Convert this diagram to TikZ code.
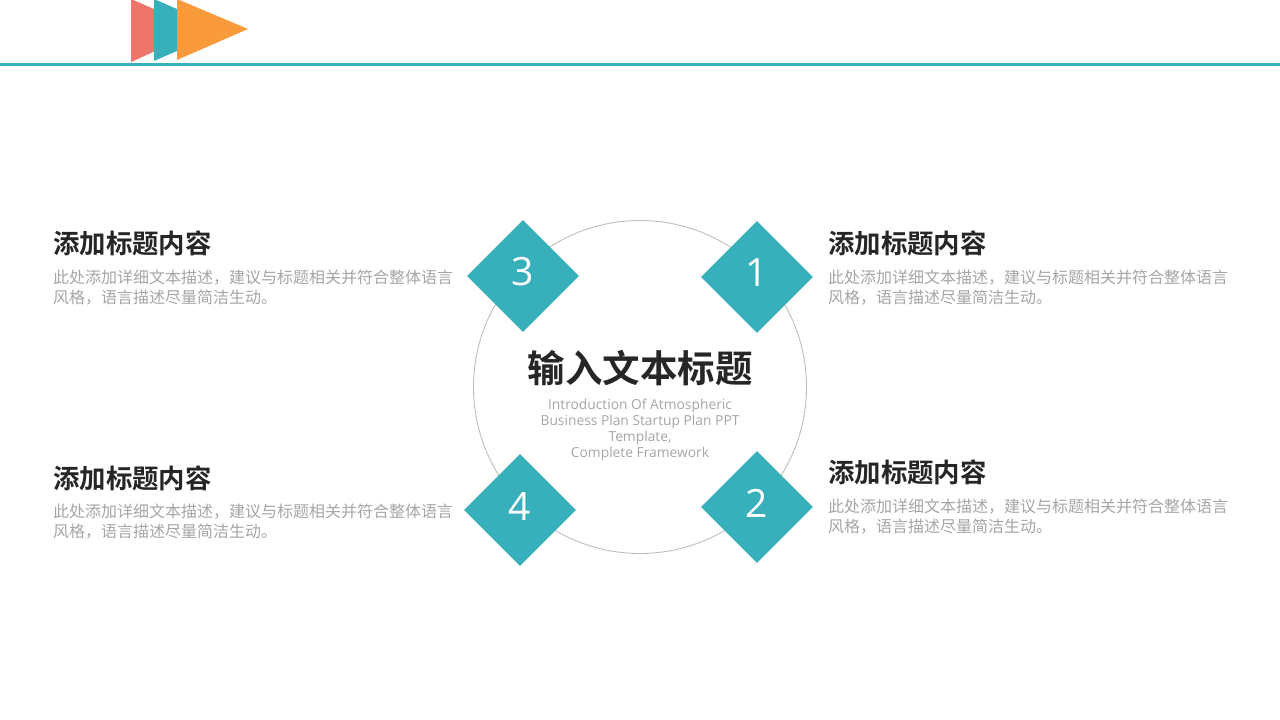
\documentclass[tikz,border=0pt]{standalone}
\usepackage{fontspec}
\setmainfont{Open Sans}
\newfontfamily\cjk{Noto Sans CJK SC}
\newfontfamily\cjkb{Noto Sans CJK SC Bold}
\definecolor{teal1}{HTML}{38B0BC}
\definecolor{orange1}{HTML}{F99A3B}
\definecolor{pink1}{HTML}{EE7569}
\definecolor{dark1}{HTML}{262626}
\definecolor{gray1}{HTML}{A6A6A6}
\definecolor{circ}{HTML}{BFBFBF}
\begin{document}
\begin{tikzpicture}[x=1pt,y=-1pt,
  dia/.style={fill=teal1,minimum size=79pt,inner sep=0pt,rotate=45},
  num/.style={text=white,font=\fontsize{39}{39}\selectfont,inner sep=0pt,yshift=4pt},
  ttl/.style={anchor=west,inner sep=0pt,text=dark1,font=\cjkb\fontsize{26.4}{26.4}\selectfont},
  desc/.style={anchor=north west,inner sep=0pt,text=gray1,align=left,font=\cjk\fontsize{16}{19.5}\selectfont}]
\useasboundingbox (0,0) rectangle (1280,720);
\fill[white] (0,0) rectangle (1280,720);
% header triangles
\fill[pink1] (131,-1) -- (131,62) -- (202,30) -- cycle;
\fill[teal1] (154,-1) -- (154,61) -- (225,30) -- cycle;
\fill[orange1] (177,-1) -- (177,60) -- (248,29) -- cycle;
\coordinate (hl) at (0,64.5);
\coordinate (hr) at (1280,64.5);
\draw[teal1,line width=3.5pt] (hl) -- (hr);
% circle
\node[circle,draw=circ,line width=0.9pt,minimum size=333pt,inner sep=0pt] (c) at (640,387) {};
% diamonds
\node[dia] (d1) at (757,277) {};
\node[dia] (d3) at (523,276) {};
\node[dia] (d4) at (520,510) {};
\node[dia] (d2) at (757,507) {};
\node[num] (n1) at (d1) {1};
\node[num] (n3) at (d3) {3};
\node[num] (n4) at (d4) {4};
\node[num] (n2) at (d2) {2};
% center text
\node[text=dark1,font=\cjkb\fontsize{37.5}{37.5}\selectfont,inner sep=0pt] (ct) at (640,368) {输入文本标题};
\node[text=gray1,font=\fontsize{13.8}{16}\selectfont,align=center,inner sep=0pt,anchor=north] (ce) at (640,399) {Introduction Of Atmospheric\\Business Plan Startup Plan PPT\\Template,\\Complete Framework};
% side texts
\node[ttl] (t3) at (53,243) {添加标题内容};
\node[desc] (s3) at (53,270) {此处添加详细文本描述，建议与标题相关并符合整体语言\\风格，语言描述尽量简洁生动。};
\node[ttl] (t1) at (828,243) {添加标题内容};
\node[desc] (s1) at (828,270) {此处添加详细文本描述，建议与标题相关并符合整体语言\\风格，语言描述尽量简洁生动。};
\node[ttl] (t4) at (53,478) {添加标题内容};
\node[desc] (s4) at (53,504) {此处添加详细文本描述，建议与标题相关并符合整体语言\\风格，语言描述尽量简洁生动。};
\node[ttl] (t2) at (828,472) {添加标题内容};
\node[desc] (s2) at (828,499) {此处添加详细文本描述，建议与标题相关并符合整体语言\\风格，语言描述尽量简洁生动。};
\end{tikzpicture}
\end{document}
